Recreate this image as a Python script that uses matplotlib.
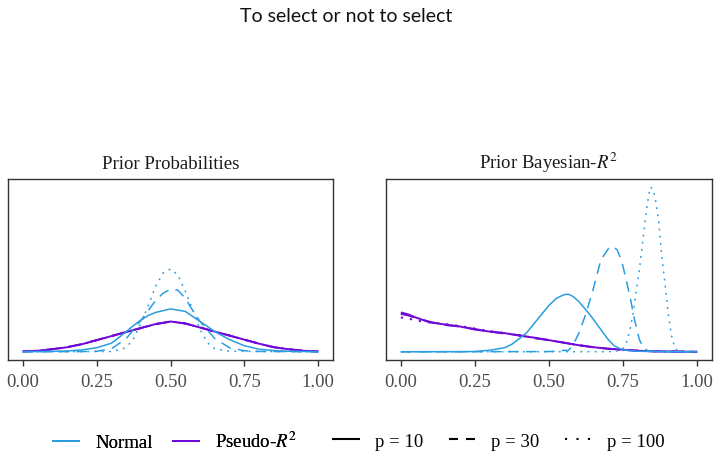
import numpy as np
import matplotlib
matplotlib.use("Agg")
import matplotlib.pyplot as plt
from matplotlib.lines import Line2D

plt.rcParams['mathtext.fontset'] = 'stix'
SERIF = ['Liberation Serif', 'DejaVu Serif']

BLUE = '#2b9de2'
PURPLE = '#7008d8'

# ---------------- data (relative density) ----------------
# Panel 1: Prior Probabilities
pp_norm10_x = [0, 0.1, 0.15, 0.2, 0.25, 0.3, 0.325, 0.35, 0.375, 0.4, 0.425, 0.45, 0.5, 0.55, 0.6, 0.65, 0.7, 0.75, 0.8, 0.85, 0.9, 1.0]
pp_norm10_y = [0.01, 0.04, 0.08, 0.18, 0.4, 0.85, 1.4, 2.0, 2.6, 3.15, 3.6, 3.9, 4.25, 4.0, 3.0, 2.0, 1.2, 0.6, 0.25, 0.12, 0.05, 0.01]
pp_norm30_x = [0, 0.2, 0.25, 0.3, 0.35, 0.4, 0.45, 0.475, 0.5, 0.525, 0.55, 0.575, 0.6, 0.65, 0.7, 0.75, 0.8, 1.0]
pp_norm30_y = [0.0, 0.02, 0.05, 0.3, 1.3, 3.1, 5.1, 5.8, 6.2, 6.1, 5.3, 4.1, 3.0, 1.3, 0.4, 0.1, 0.03, 0.0]
pp_norm100_x = [0, 0.3, 0.34, 0.37, 0.4, 0.425, 0.45, 0.475, 0.5, 0.525, 0.55, 0.575, 0.6, 0.625, 0.65, 0.7, 1.0]
pp_norm100_y = [0.0, 0.03, 0.3, 1.0, 2.8, 4.6, 6.5, 7.8, 8.2, 7.6, 6.0, 4.2, 2.2, 0.9, 0.3, 0.05, 0.0]
pp_pseudo_x = [0, 0.05, 0.1, 0.15, 0.2, 0.25, 0.3, 0.35, 0.4, 0.45, 0.5, 0.55, 0.6, 0.65, 0.7, 0.75, 0.8, 0.85, 0.9, 0.95, 1.0]
pp_pseudo10_y = [0.03, 0.1, 0.25, 0.45, 0.75, 1.15, 1.55, 1.95, 2.35, 2.75, 3.0, 2.8, 2.4, 2.0, 1.6, 1.2, 0.8, 0.45, 0.25, 0.1, 0.03]
pp_pseudo30_y = [0.03, 0.1, 0.26, 0.46, 0.76, 1.16, 1.56, 1.96, 2.36, 2.74, 2.98, 2.8, 2.42, 2.0, 1.6, 1.2, 0.8, 0.45, 0.25, 0.1, 0.03]
pp_pseudo100_y = [0.03, 0.1, 0.25, 0.45, 0.74, 1.14, 1.55, 1.94, 2.34, 2.75, 3.0, 2.82, 2.4, 2.0, 1.62, 1.2, 0.8, 0.46, 0.25, 0.1, 0.03]

# Panel 2: Prior Bayesian-R^2
br_norm10_x = [0, 0.2, 0.25, 0.3, 0.35, 0.375, 0.4, 0.425, 0.45, 0.475, 0.5, 0.525, 0.55, 0.565, 0.58, 0.6, 0.62, 0.64, 0.66, 0.68, 0.7, 0.72, 0.74, 0.76, 0.8, 0.9, 1.0]
br_norm10_y = [0.0, 0.01, 0.03, 0.15, 0.4, 0.75, 1.3, 1.9, 2.8, 3.7, 4.6, 5.3, 5.65, 5.7, 5.5, 5.0, 4.3, 3.6, 2.8, 2.0, 1.2, 0.6, 0.3, 0.15, 0.05, 0.01, 0.0]
br_norm30_x = [0, 0.5, 0.54, 0.55, 0.565, 0.58, 0.6, 0.625, 0.65, 0.675, 0.7, 0.715, 0.73, 0.745, 0.76, 0.775, 0.79, 0.805, 0.82, 0.84, 0.9, 1.0]
br_norm30_y = [0.0, 0.02, 0.08, 0.15, 0.12, 0.6, 1.8, 3.8, 6.3, 9.1, 10.2, 10.45, 10.1, 9.0, 7.2, 5.2, 3.0, 1.2, 0.3, 0.05, 0.01, 0.0]
br_norm100_x = [0, 0.7, 0.74, 0.75, 0.762, 0.774, 0.785, 0.796, 0.807, 0.819, 0.83, 0.841, 0.849, 0.858, 0.87, 0.88, 0.892, 0.903, 0.915, 0.926, 0.94, 1.0]
br_norm100_y = [0.0, 0.01, 0.1, 0.3, 1.0, 2.3, 4.0, 6.3, 8.6, 11.6, 14.3, 16.3, 16.2, 15.3, 13.0, 9.6, 6.6, 3.6, 1.3, 0.3, 0.05, 0.0]
br_pseudo_x = [0, 0.025, 0.05, 0.1, 0.15, 0.2, 0.25, 0.3, 0.35, 0.4, 0.45, 0.5, 0.55, 0.6, 0.65, 0.7, 0.75, 0.8, 0.85, 0.9, 1.0]
br_pseudo10_y = [3.9, 3.7, 3.4, 2.9, 2.7, 2.5, 2.2, 2.0, 1.85, 1.6, 1.4, 1.15, 0.9, 0.65, 0.45, 0.3, 0.2, 0.1, 0.05, 0.03, 0.0]
br_pseudo30_y = [3.75, 3.6, 3.35, 2.95, 2.65, 2.5, 2.25, 2.0, 1.8, 1.65, 1.35, 1.15, 0.9, 0.65, 0.45, 0.3, 0.2, 0.1, 0.05, 0.03, 0.0]
br_pseudo100_y = [3.4, 3.3, 3.1, 2.9, 2.75, 2.55, 2.3, 2.05, 1.85, 1.6, 1.4, 1.15, 0.9, 0.65, 0.45, 0.3, 0.2, 0.1, 0.05, 0.03, 0.0]

x_ticks = [0.0, 0.25, 0.5, 0.75, 1.0]
x_tick_labels = ['0.00', '0.25', '0.50', '0.75', '1.00']
panel_titles = ['Prior Probabilities', 'Prior Bayesian-$R^2$']
p_labels = ['p = 10', 'p = 30', 'p = 100']
method_labels = ['Normal', 'Pseudo-$R^2$']

# ---------------- styles ----------------
LW = 1.1
styles = {
    10: '-',
    30: (0, (7, 4.7)),
    100: (0, (1.2, 3.5)),
}
LEG_LW = 1.5
legend_styles = {
    10: '-',
    30: (0, (4.3, 3.84)),
    100: (0, (1.0, 4.5)),
}

fig = plt.figure(figsize=(7.2, 4.6), dpi=100)
W, H = 720, 460

def add_ax(x0, y0, x1, y1):
    return fig.add_axes([x0 / W, 1 - y1 / H, (x1 - x0) / W, (y1 - y0) / H])

ax1 = add_ax(8, 180, 333, 361)
ax2 = add_ax(386, 180, 712, 361)

panels = [
    (ax1, [(pp_norm10_x, pp_norm10_y, 10), (pp_norm30_x, pp_norm30_y, 30), (pp_norm100_x, pp_norm100_y, 100)],
          [(pp_pseudo_x, pp_pseudo10_y, 10), (pp_pseudo_x, pp_pseudo30_y, 30), (pp_pseudo_x, pp_pseudo100_y, 100)]),
    (ax2, [(br_norm10_x, br_norm10_y, 10), (br_norm30_x, br_norm30_y, 30), (br_norm100_x, br_norm100_y, 100)],
          [(br_pseudo_x, br_pseudo10_y, 10), (br_pseudo_x, br_pseudo30_y, 30), (br_pseudo_x, br_pseudo100_y, 100)]),
]

ymax = max(max(br_norm100_y), max(pp_norm100_y), max(br_norm30_y))
for (ax, normals, pseudos), title in zip(panels, panel_titles):
    for xs, ys, p in pseudos:
        ax.plot(xs, ys, color=PURPLE, lw=1.4, ls=styles[p], solid_capstyle='butt')
    for xs, ys, p in normals:
        ax.plot(xs, ys, color=BLUE, lw=LW, ls=styles[p], solid_capstyle='butt')
    ax.set_xlim(-0.05, 1.05)
    ax.set_ylim(-0.05 * ymax, 1.05 * ymax)
    ax.set_yticks([])
    ax.set_xticks(x_ticks)
    ax.set_xticklabels(x_tick_labels, family=SERIF, fontsize=13.5, color='#4d4d4d')
    ax.tick_params(axis='x', length=4, width=1.0, color='#333333', pad=5.5)
    for s in ax.spines.values():
        s.set_color('#333333')
        s.set_linewidth(1.0)
    ax.set_title(title, family=SERIF, fontsize=13.5, color='#1a1a1a', pad=8.2)

fig.text(346 / W, 1 - 16 / H, 'To select or not to select', ha='center', va='center',
         family=['Lato', 'DejaVu Sans'], fontsize=14, color='#111111')

# legends
h1 = [Line2D([], [], color=BLUE, lw=LW + 0.2), Line2D([], [], color=PURPLE, lw=LW + 0.3)]
leg1 = fig.legend(h1, method_labels, loc='center left', bbox_to_anchor=(53 / W, 1 - 442 / H),
                  ncol=2, frameon=False, borderpad=0, borderaxespad=0, handlelength=1.4,
                  handletextpad=0.85, columnspacing=1.07, prop={'family': SERIF, 'size': 13.5})
h2 = [Line2D([], [], color='black', lw=LEG_LW, ls=legend_styles[p], dash_capstyle='butt') for p in (10, 30, 100)]
leg2 = fig.legend(h2, p_labels, loc='center left', bbox_to_anchor=(333 / W, 1 - 442 / H),
                  ncol=3, frameon=False, borderpad=0, borderaxespad=0, handlelength=1.4,
                  handletextpad=0.85, columnspacing=1.35, prop={'family': SERIF, 'size': 13.5})
fig.add_artist(leg1)

fig.savefig('out.png', dpi=100)
